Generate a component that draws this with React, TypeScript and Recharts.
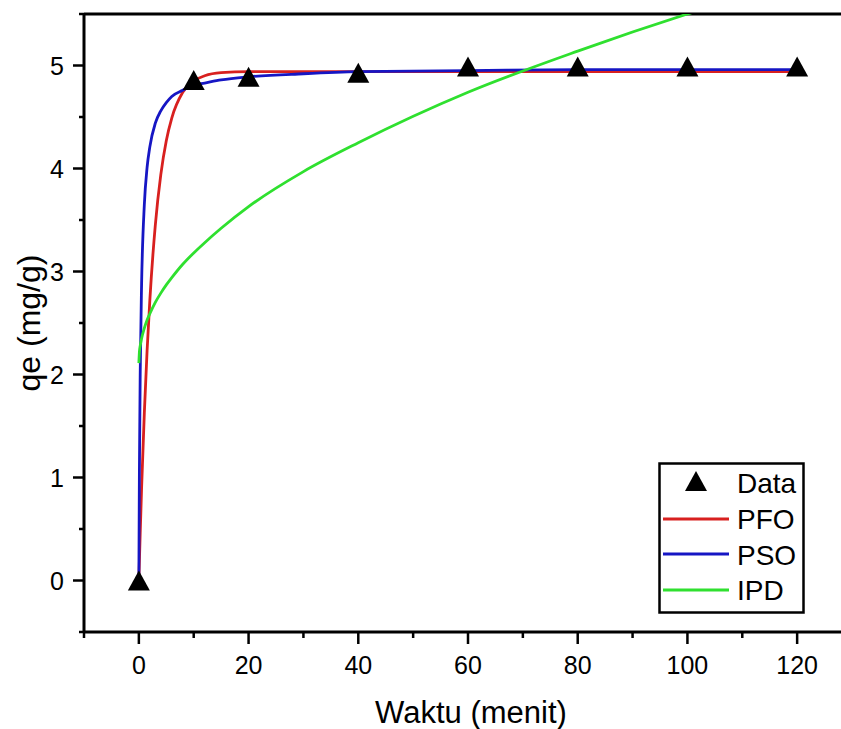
import React from 'react';
import { ComposedChart, Line, Scatter, XAxis, YAxis, Legend, ReferenceLine, Label } from 'recharts';

// experimental points
const dataTime = [0, 10, 20, 40, 60, 80, 100, 120];
const dataQe = [0, 4.86, 4.89, 4.93, 4.99, 4.99, 4.99, 4.99];

// fitted curves
const fitTime = [0, 0.1, 0.25, 0.5, 1, 1.5, 2, 3, 4, 5, 6, 8, 10, 12, 15, 20, 30, 40, 60, 80, 100, 120];
const pfoQe = [0, 0.19, 0.47, 0.9, 1.63, 2.23, 2.72, 3.45, 3.94, 4.27, 4.49, 4.74, 4.85, 4.9, 4.93, 4.94, 4.94, 4.94, 4.94, 4.94, 4.94, 4.94];
const psoQe = [0, 1.07, 2.03, 2.88, 3.65, 4.01, 4.21, 4.44, 4.56, 4.64, 4.7, 4.76, 4.81, 4.83, 4.86, 4.89, 4.92, 4.94, 4.95, 4.96, 4.96, 4.96];
const ipdQe = [2.11, 2.22, 2.28, 2.35, 2.45, 2.53, 2.59, 2.7, 2.79, 2.87, 2.94, 3.07, 3.18, 3.28, 3.42, 3.63, 3.97, 4.25, 4.74, 5.14, 5.5, 5.82];

const xTicks = [-10, 0, 10, 20, 30, 40, 50, 60, 70, 80, 90, 100, 110, 120, 130];
const yTicks = [-0.5, 0, 0.5, 1, 1.5, 2, 2.5, 3, 3.5, 4, 4.5, 5, 5.5];

const dataPts = dataTime.map((t, i) => ({ t, q: dataQe[i] }));
const pfo = fitTime.map((t, i) => ({ t, q: pfoQe[i] }));
const pso = fitTime.map((t, i) => ({ t, q: psoQe[i] }));
const ipd = fitTime.map((t, i) => ({ t, q: ipdQe[i] }));

const FONT = '"Liberation Sans", Arial, sans-serif';
const RED = '#d8201f';
const BLUE = '#1616c4';
const GREEN = '#2fe02f';

const XTick = (p: any) => {
  const v = p.payload.value;
  const major = v % 20 === 0;
  return (
    <g>
      <line x1={p.x} x2={p.x} y1={p.y} y2={p.y + (major ? 12 : 6)} stroke="#000" strokeWidth={2.5} />
      {major && (
        <text x={p.x} y={p.y + 33} textAnchor="middle" dominantBaseline="central" fontSize={25} fontFamily={FONT} fill="#000">
          {v}
        </text>
      )}
    </g>
  );
};

const YTick = (p: any) => {
  const v = p.payload.value;
  const major = Number.isInteger(v);
  return (
    <g>
      <line x1={p.x} x2={p.x - (major ? 11 : 5)} y1={p.y} y2={p.y} stroke="#000" strokeWidth={2.5} />
      {major && (
        <text x={p.x - 20} y={p.y} textAnchor="end" dominantBaseline="central" fontSize={25} fontFamily={FONT} fill="#000">
          {v}
        </text>
      )}
    </g>
  );
};

const Triangle = (p: any) => {
  const { cx, cy } = p;
  return <polygon points={`${cx},${cy - 10} ${cx + 11},${cy + 10} ${cx - 11},${cy + 10}`} fill="#000" />;
};

const LegendBox = () => (
  <svg width={148} height={153} style={{ display: 'block' }}>
    <rect x={1.5} y={1.5} width={144} height={149} fill="#fff" stroke="#000" strokeWidth={2.5} />
    <polygon points="38,9 49,29 27,29" fill="#000" />
    <line x1={5} x2={71} y1={57} y2={57} stroke={RED} strokeWidth={3} />
    <line x1={5} x2={71} y1={92} y2={92} stroke={BLUE} strokeWidth={3} />
    <line x1={5} x2={71} y1={128} y2={128} stroke={GREEN} strokeWidth={3} />
    {['Data', 'PFO', 'PSO', 'IPD'].map((s, i) => (
      <text key={s} x={79} y={[21, 57, 93, 128][i]} dominantBaseline="central" fontSize={28} fontFamily={FONT} fill="#000">
        {s}
      </text>
    ))}
  </svg>
);

export default function App() {
  return (
    <div style={{ position: 'absolute', left: 0, top: 0, width: 841, height: 729, overflow: 'hidden', background: '#fff' }}>
      <ComposedChart width={880} height={729} margin={{ top: 14, right: 28, bottom: 0, left: 0 }}>
        <XAxis
          dataKey="t"
          type="number"
          domain={[-10, 130]}
          ticks={xTicks}
          interval={0}
          tick={<XTick />}
          tickSize={0}
          tickMargin={0}
          tickLine={false}
          height={97}
          axisLine={{ stroke: '#000', strokeWidth: 3 }}
          allowDataOverflow
        >
          <Label
            content={() => (
              <text x={471} y={712} textAnchor="middle" dominantBaseline="central" fontSize={31} fontFamily={FONT} fill="#000">
                Waktu (menit)
              </text>
            )}
          />
        </XAxis>
        <YAxis
          dataKey="q"
          type="number"
          domain={[-0.5, 5.5]}
          ticks={yTicks}
          interval={0}
          tick={<YTick />}
          tickSize={0}
          tickMargin={0}
          tickLine={false}
          width={84}
          axisLine={{ stroke: '#000', strokeWidth: 3 }}
          allowDataOverflow
        >
          <Label
            content={() => (
              <text
                x={29}
                y={323}
                transform="rotate(-90 29 323)"
                textAnchor="middle"
                dominantBaseline="central"
                fontSize={32}
                fontFamily={FONT}
                fill="#000"
              >
                qe (mg/g)
              </text>
            )}
          />
        </YAxis>
        <ReferenceLine y={5.5} stroke="#000" strokeWidth={3} />
        <ReferenceLine x={130} stroke="#000" strokeWidth={3} />
        <Scatter data={dataPts} dataKey="q" shape={<Triangle />} isAnimationActive={false} />
        <Line data={pfo} dataKey="q" type="monotone" stroke={RED} strokeWidth={2.8} dot={false} isAnimationActive={false} />
        <Line data={pso} dataKey="q" type="monotone" stroke={BLUE} strokeWidth={2.8} dot={false} isAnimationActive={false} />
        <Line data={ipd} dataKey="q" type="monotone" stroke={GREEN} strokeWidth={2.8} dot={false} isAnimationActive={false} />
        <Legend
          layout="vertical"
          verticalAlign="middle"
          align="center"
          content={<LegendBox />}
          wrapperStyle={{ position: 'absolute', left: 658, top: 462, width: 148, height: 153 }}
        />
      </ComposedChart>
    </div>
  );
}
